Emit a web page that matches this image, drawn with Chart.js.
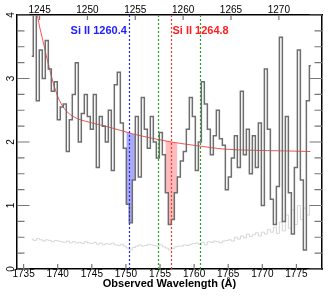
<!DOCTYPE html>
<html>
<head>
<meta charset="utf-8">
<script src="https://cdn.jsdelivr.net/npm/chart.js@4.4.0/dist/chart.umd.min.js"></script>
<style>
  html, body { margin: 0; padding: 0; background: #fff; }
</style>
</head>
<body>
<canvas id="spec" width="336" height="303"></canvas>
<script>
// observed-frame wavelength grid of the spectrum (Angstrom)
var waveStart = 1736.2;
var binWidth = 0.44;

// normalised flux, one value per bin
var flux = [
  3.35, 4.5, 2.65, 3.45, 3.0, 3.6, 3.15, 2.8, 2.95, 2.35,
  2.55, 2.6, 1.85, 2.35, 2.75, 3.25, 2.0, 2.45, 2.75, 2.4,
  2.2, 2.75, 1.6, 2.4, 2.25, 2.0, 2.5, 1.55, 2.9, 3.1,
  2.3, 1.9, 1.02, 0.73, 1.4, 2.4, 1.45, 2.7, 2.2, 1.9,
  2.4, 2.0, 1.75, 2.15, 1.8, 1.2, 0.7, 0.78, 1.2, 1.45,
  1.7, 1.85, 2.2, 2.7, 2.4, 1.55, 2.0, 2.95, 2.6, 2.2,
  1.8, 2.1, 2.5, 2.05, 1.95, 1.25, 1.45, 1.75, 2.1, 1.6,
  2.8, 1.8, 2.2, 1.5, 2.1, 1.6, 2.3, 1.0, 3.15, 2.2,
  1.1, 0.7, 1.3, 3.65, 0.75, 2.4, 1.2, 0.55, 1.6, 3.45,
  1.4, 0.3, 2.65, 3.2
];

// error spectrum, same bins
var fluxErr = [
  0.47, 0.45, 0.48, 0.46, 0.44, 0.46, 0.45, 0.43, 0.45, 0.44,
  0.43, 0.42, 0.44, 0.41, 0.43, 0.41, 0.42, 0.40, 0.43, 0.41,
  0.40, 0.42, 0.39, 0.41, 0.38, 0.40, 0.39, 0.41, 0.38, 0.37,
  0.39, 0.36, 0.33, 0.30, 0.34, 0.36, 0.38, 0.36, 0.37, 0.39,
  0.38, 0.37, 0.36, 0.38, 0.35, 0.33, 0.30, 0.32, 0.35, 0.36,
  0.36, 0.38, 0.37, 0.39, 0.40, 0.41, 0.39, 0.42, 0.38, 0.43,
  0.42, 0.44, 0.43, 0.41, 0.44, 0.45, 0.46, 0.44, 0.50, 0.47,
  0.52, 0.49, 0.55, 0.51, 0.54, 0.57, 0.52, 0.58, 0.55, 0.62,
  0.58, 0.66, 0.56, 0.74, 0.60, 0.85, 0.64, 0.93, 0.70, 1.0,
  0.78, 0.96, 0.85, 1.0
];

// continuum fit, read at a few wavelengths
var contWave = [1736.5, 1737.0, 1737.84, 1738.8, 1739.54, 1740.27, 1741.25, 1742.46, 1744.66,
  1746.62, 1749.29, 1751.3, 1754.7, 1756.65, 1760.56, 1764.2, 1768.36, 1773.24, 1777.05];
var contFlux = [4.5, 4.02, 3.59, 3.15, 2.86, 2.65, 2.49, 2.39, 2.31,
  2.26, 2.18, 2.12, 2.04, 2.0, 1.94, 1.89, 1.87, 1.86, 1.85];

// marked lines (observed wavelength)
var blueLine = 1750.5;
var redLine = 1756.6;
var greenLines = [1754.75, 1760.85];
var blueLabel = "Si II 1260.4";
var redLabel = "Si II 1264.8";

// absorbed bins that get shaded (first, last)
var blueBins = [32, 34];
var redBins = [45, 48];

var fontFam = '"Liberation Sans", Arial, Helvetica, sans-serif';

function binPoints(values) {
    return values.map(function (v, i) {
        return { x: waveStart + i * binWidth, y: v };
    });
}

// bin edges for shading, so the filled steps are full width
function shadePoints(range) {
    var pts = [];
    for (var i = range[0]; i <= range[1]; i++) {
        pts.push({ x: waveStart + i * binWidth - binWidth / 2, y: flux[i] });
    }
    pts.push({ x: waveStart + range[1] * binWidth + binWidth / 2, y: flux[range[1]] });
    return pts;
}

var contPts = contWave.map(function (w, i) { return { x: w, y: contFlux[i] }; });

var overlay = {
    id: "overlay",
    afterDatasetsDraw: function (chart) {
        var ctx = chart.ctx;
        var area = chart.chartArea;
        var xs = chart.scales.x;

        function vline(w, col) {
            var px = Math.round(xs.getPixelForValue(w)) + 0.5;
            ctx.save();
            ctx.lineWidth = 1.2;
            ctx.setLineDash([2, 2]);
            ctx.strokeStyle = col;
            ctx.beginPath();
            ctx.moveTo(px, area.top);
            ctx.lineTo(px, area.bottom);
            ctx.stroke();
            ctx.restore();
        }
        vline(blueLine, "rgb(40, 40, 255)");
        vline(redLine, "rgb(255, 50, 50)");
        greenLines.forEach(function (w) { vline(w, "rgb(40, 160, 40)"); });

        ctx.save();
        ctx.font = "bold 11px " + fontFam;
        ctx.textBaseline = "middle";
        ctx.fillStyle = "#2020ff";
        ctx.textAlign = "right";
        ctx.fillText(blueLabel, xs.getPixelForValue(blueLine) - 2.5, area.top + 16);
        ctx.fillStyle = "#ff2020";
        ctx.textAlign = "left";
        ctx.fillText(redLabel, xs.getPixelForValue(redLine) + 1.5, area.top + 16);
        ctx.restore();
    },
    afterDraw: function (chart) {
        var ctx = chart.ctx;
        var area = chart.chartArea;
        var s = chart.scales;
        ctx.save();
        ctx.strokeStyle = "#777";
        ctx.lineWidth = 1.2;
        ctx.beginPath();
        s.x.ticks.forEach(function (t) {
            var px = s.x.getPixelForValue(t.value);
            ctx.moveTo(px, area.bottom);
            ctx.lineTo(px, area.bottom - 5);
        });
        s.x2.ticks.forEach(function (t) {
            var px = s.x2.getPixelForValue(t.value);
            ctx.moveTo(px, area.top);
            ctx.lineTo(px, area.top + 5);
        });
        s.y.ticks.forEach(function (t) {
            var py = s.y.getPixelForValue(t.value);
            var major = Math.abs(t.value - Math.round(t.value)) < 1e-6;
            var len = major ? 12.5 : 7.5;
            ctx.moveTo(area.left, py);
            ctx.lineTo(area.left + len, py);
            ctx.moveTo(area.right, py);
            ctx.lineTo(area.right - len, py);
        });
        ctx.stroke();

        // y labels, turned on their side
        ctx.fillStyle = "#000";
        ctx.font = "10px " + fontFam;
        ctx.textAlign = "center";
        ctx.textBaseline = "middle";
        s.y.ticks.forEach(function (t) {
            if (Math.abs(t.value - Math.round(t.value)) > 1e-6) return;
            var py = s.y.getPixelForValue(t.value);
            ctx.save();
            ctx.translate(area.left - 5.5, py);
            ctx.rotate(-Math.PI / 2);
            ctx.fillText(String(Math.round(t.value)), 0, 0);
            ctx.restore();
        });
        ctx.restore();
    }
};

var frameBorder = { display: true, color: "#000", width: 1.5 };
var noGrid = { display: false, drawTicks: false };

var config = {
    type: "line",
    data: {
        datasets: [
            {
                label: "flux",
                data: binPoints(flux),
                stepped: "middle",
                borderColor: "#6e6e6e",
                borderWidth: 1.5,
                pointRadius: 0,
                fill: false
            },
            {
                label: "continuum",
                data: contPts,
                cubicInterpolationMode: "monotone",
                borderColor: "rgba(255, 60, 60, 0.9)",
                borderWidth: 1,
                pointRadius: 0,
                fill: false
            },
            {
                label: "Si II 1260.4",
                data: shadePoints(blueBins),
                stepped: "before",
                borderColor: "rgba(0, 0, 0, 0)",
                borderWidth: 0,
                pointRadius: 0,
                fill: { target: 1, above: "rgba(100, 100, 245, 0.55)", below: "rgba(100, 100, 245, 0.55)" }
            },
            {
                label: "Si II 1264.8",
                data: shadePoints(redBins),
                stepped: "before",
                borderColor: "rgba(0, 0, 0, 0)",
                borderWidth: 0,
                pointRadius: 0,
                fill: { target: 1, above: "rgba(255, 120, 120, 0.5)", below: "rgba(255, 120, 120, 0.5)" }
            },
            {
                label: "error",
                data: binPoints(fluxErr),
                stepped: "middle",
                borderColor: "#d4d4d4",
                borderWidth: 1,
                pointRadius: 0,
                fill: false
            }
        ]
    },
    options: {
        responsive: false,
        animation: false,
        layout: { padding: 0 },
        plugins: {
            legend: { display: false },
            tooltip: { enabled: false }
        },
        scales: {
            x: {
                type: "linear",
                position: "bottom",
                min: 1734.03,
                max: 1778.75,
                afterFit: function (sc) { sc.height = 34; },
                grid: noGrid,
                border: frameBorder,
                ticks: {
                    stepSize: 5,
                    includeBounds: false,
                    autoSkip: false,
                    maxRotation: 0,
                    padding: -1,
                    color: "#000",
                    font: { family: fontFam, size: 10 },
                    callback: function (v) { return String(v); }
                },
                title: {
                    display: true,
                    text: "Observed Wavelength (Å)",
                    color: "#000",
                    font: { family: fontFam, size: 11, weight: "bold" },
                    padding: { top: 0, bottom: 12 }
                }
            },
            x2: {
                type: "linear",
                position: "top",
                min: 1242.64,
                max: 1274.51,
                afterFit: function (sc) { sc.height = 15; },
                grid: noGrid,
                border: frameBorder,
                ticks: {
                    stepSize: 5,
                    includeBounds: false,
                    autoSkip: false,
                    maxRotation: 0,
                    padding: -1.5,
                    color: "#000",
                    font: { family: fontFam, size: 10 },
                    callback: function (v) { return String(v); }
                }
            },
            y: {
                type: "linear",
                position: "left",
                min: 0,
                max: 4,
                afterFit: function (sc) { sc.width = 17; },
                grid: noGrid,
                border: frameBorder,
                ticks: { display: false, stepSize: 0.25, includeBounds: false }
            },
            y2: {
                type: "linear",
                position: "right",
                min: 0,
                max: 4,
                afterFit: function (sc) { sc.width = 14; },
                grid: noGrid,
                border: frameBorder,
                ticks: { display: false }
            }
        }
    },
    plugins: [overlay]
};

new Chart(document.getElementById("spec"), config);
</script>
</body>
</html>
